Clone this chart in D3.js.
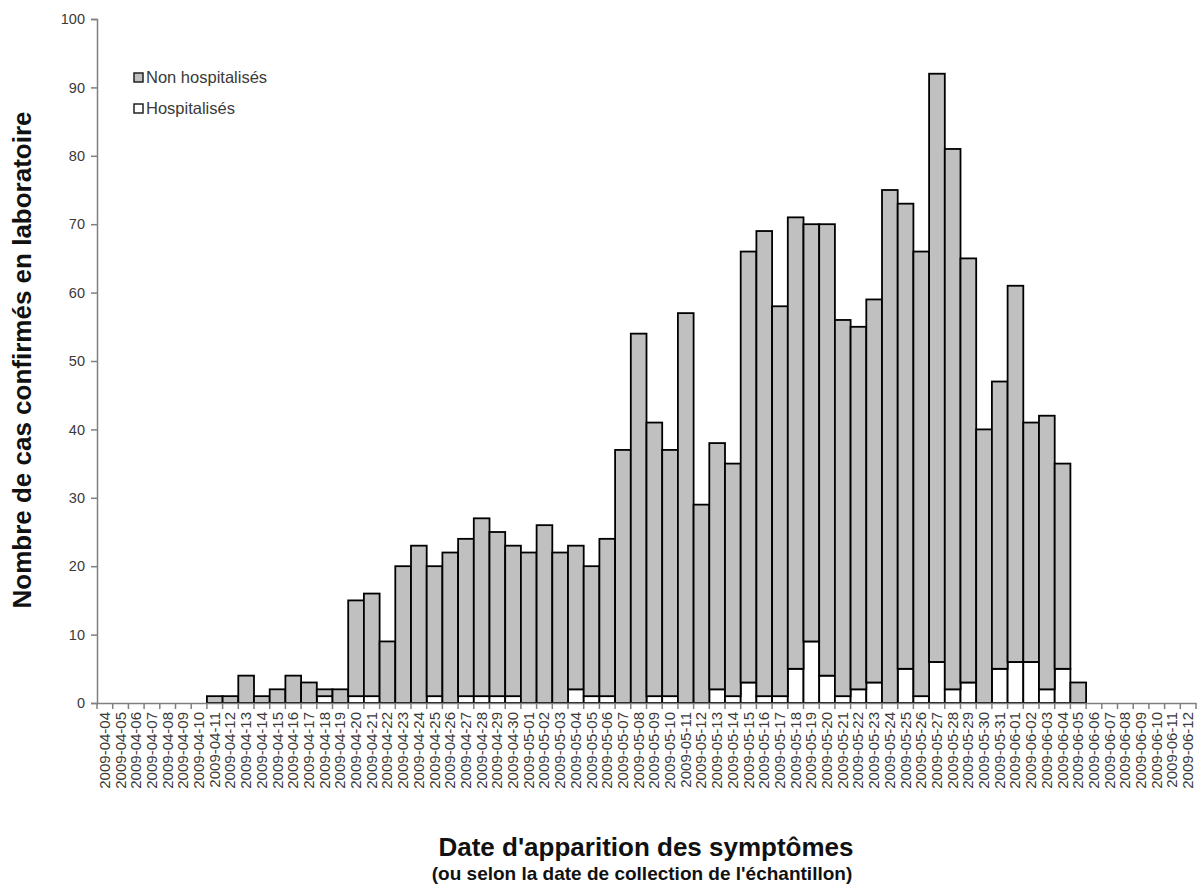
<!DOCTYPE html>
<html>
<head>
<meta charset="utf-8">
<script src="https://cdn.jsdelivr.net/npm/d3@7/dist/d3.min.js"></script>
<style>
  html, body { margin: 0; padding: 0; background: #fff; }
  svg { display: block; }
  text { font-family: "Liberation Sans", Arial, sans-serif; }
</style>
</head>
<body>
<svg id="chart" width="1197" height="885"></svg>
<script>
// ---- Data ----
const dates = [
  "2009-04-04","2009-04-05","2009-04-06","2009-04-07","2009-04-08","2009-04-09","2009-04-10",
  "2009-04-11","2009-04-12","2009-04-13","2009-04-14","2009-04-15","2009-04-16","2009-04-17",
  "2009-04-18","2009-04-19","2009-04-20","2009-04-21","2009-04-22","2009-04-23","2009-04-24",
  "2009-04-25","2009-04-26","2009-04-27","2009-04-28","2009-04-29","2009-04-30","2009-05-01",
  "2009-05-02","2009-05-03","2009-05-04","2009-05-05","2009-05-06","2009-05-07","2009-05-08",
  "2009-05-09","2009-05-10","2009-05-11","2009-05-12","2009-05-13","2009-05-14","2009-05-15",
  "2009-05-16","2009-05-17","2009-05-18","2009-05-19","2009-05-20","2009-05-21","2009-05-22",
  "2009-05-23","2009-05-24","2009-05-25","2009-05-26","2009-05-27","2009-05-28","2009-05-29",
  "2009-05-30","2009-05-31","2009-06-01","2009-06-02","2009-06-03","2009-06-04","2009-06-05",
  "2009-06-06","2009-06-07","2009-06-08","2009-06-09","2009-06-10","2009-06-11","2009-06-12"
];
const hospitalises = [
  0,0,0,0,0,0,0,
  0,0,0,0,0,0,0,
  1,0,1,1,0,0,0,
  1,0,1,1,1,1,0,
  0,0,2,1,1,0,0,
  1,1,0,0,2,1,3,
  1,1,5,9,4,1,2,
  3,0,5,1,6,2,3,
  0,5,6,6,2,5,0,
  0,0,0,0,0,0,0
];
const nonHospitalises = [
  0,0,0,0,0,0,0,
  1,1,4,1,2,4,3,
  1,2,14,15,9,20,23,
  19,22,23,26,24,22,22,
  26,22,21,19,23,37,54,
  40,36,57,29,36,34,63,
  68,57,66,61,66,55,53,
  56,75,68,65,86,79,62,
  40,42,55,35,40,30,3,
  0,0,0,0,0,0,0
];
const yTicks = [0,10,20,30,40,50,60,70,80,90,100];
const seriesNames = ["Non hospitalisés", "Hospitalisés"];
const seriesColors = ["#c0c0c0", "#ffffff"];

// ---- Layout ----
const svg = d3.select("#chart");
const x0 = 97, x1 = 1196, yBase = 703, yTop = 19;

const x = d3.scaleBand().domain(dates).range([x0, x1]).padding(0);
const y = d3.scaleLinear().domain([0, 100]).range([yBase, yTop]);

const rows = dates.map((d, i) => ({ date: d, hosp: hospitalises[i], non: nonHospitalises[i] }));
const stack = d3.stack().keys(["hosp", "non"]);
const layers = stack(rows);

// Bars
const g = svg.append("g");
layers.forEach((layer, li) => {
  g.selectAll(null)
    .data(layer.filter(d => d[1] - d[0] > 0))
    .enter().append("rect")
    .attr("x", d => x(d.data.date))
    .attr("width", x.bandwidth())
    .attr("y", d => y(d[1]))
    .attr("height", d => y(d[0]) - y(d[1]))
    .attr("fill", li === 0 ? seriesColors[1] : seriesColors[0])
    .attr("stroke", "#000")
    .attr("stroke-width", 1.8);
});

// Y axis
const yAxis = d3.axisLeft(y).tickValues(yTicks).tickSize(6).tickPadding(6);
const gy = svg.append("g").attr("transform", `translate(${x0},0)`).call(yAxis);
gy.select(".domain").attr("stroke", "#808080").attr("stroke-width", 1.5);
gy.selectAll(".tick line").attr("stroke", "#808080").attr("stroke-width", 1.5);
gy.selectAll(".tick text").attr("font-size", 14.5).attr("fill", "#3a3a3a")
  .attr("font-family", "Liberation Sans, Arial, sans-serif");

// X axis
const xAxis = d3.axisBottom(x).tickSize(0).tickPadding(0);
const gx = svg.append("g").attr("transform", `translate(0,${yBase})`).call(xAxis);
gx.select(".domain").attr("stroke", "#808080").attr("stroke-width", 1.5);
gx.selectAll(".tick text")
  .attr("font-size", 15)
  .attr("fill", "#3a3a3a")
  .attr("font-family", "Liberation Sans, Arial, sans-serif")
  .attr("text-anchor", "end")
  .attr("dy", null)
  .attr("transform", "translate(5,9) rotate(-90)");
// boundary ticks
gx.selectAll(".bticks")
  .data(dates.concat(["__end"]))
  .enter().append("line")
  .attr("x1", (d, i) => i < dates.length ? x(d) : x1)
  .attr("x2", (d, i) => i < dates.length ? x(d) : x1)
  .attr("y1", 0).attr("y2", 6)
  .attr("stroke", "#808080").attr("stroke-width", 1.5);

// Legend
const legend = svg.append("g");
const legendItems = [
  { name: seriesNames[0], color: seriesColors[0], y: 73 },
  { name: seriesNames[1], color: seriesColors[1], y: 104 }
];
legendItems.forEach(it => {
  legend.append("rect").attr("x", 134).attr("y", it.y).attr("width", 9).attr("height", 9)
    .attr("fill", it.color).attr("stroke", "#222").attr("stroke-width", 1.5);
  legend.append("text").attr("x", 146).attr("y", it.y + 10)
    .attr("font-size", 16.5).attr("fill", "#3a3a3a").text(it.name);
});

// Axis titles
svg.append("text")
  .attr("transform", `translate(31,360) rotate(-90)`)
  .attr("text-anchor", "middle")
  .attr("font-size", 26).attr("font-weight", "bold").attr("fill", "#111")
  .text("Nombre de cas confirmés en laboratoire");

svg.append("text")
  .attr("x", 646).attr("y", 856)
  .attr("text-anchor", "middle")
  .attr("font-size", 26).attr("font-weight", "bold").attr("fill", "#111")
  .text("Date d'apparition des symptômes");

svg.append("text")
  .attr("x", 642).attr("y", 880)
  .attr("text-anchor", "middle")
  .attr("font-size", 19).attr("font-weight", "bold").attr("fill", "#111")
  .text("(ou selon la date de collection de l'échantillon)");
</script>
</body>
</html>
